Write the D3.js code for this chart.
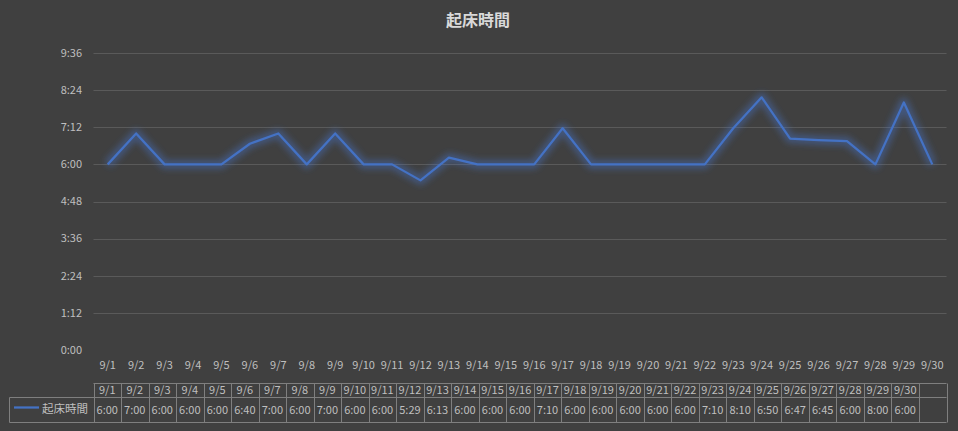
<!DOCTYPE html>
<html>
<head>
<meta charset="utf-8">
<script src="https://cdn.jsdelivr.net/npm/d3@7"></script>
<style>
  body { margin: 0; background: #404040; }
  text { font-family: "Noto Sans CJK JP", "Noto Sans", sans-serif; }
</style>
</head>
<body>
<svg id="chart" width="958" height="431"></svg>
<script>
// data
var dates = ["9/1","9/2","9/3","9/4","9/5","9/6","9/7","9/8","9/9","9/10",
  "9/11","9/12","9/13","9/14","9/15","9/16","9/17","9/18","9/19","9/20",
  "9/21","9/22","9/23","9/24","9/25","9/26","9/27","9/28","9/29","9/30"];
var wakeTimes = ["6:00","7:00","6:00","6:00","6:00","6:40","7:00","6:00","7:00","6:00",
  "6:00","5:29","6:13","6:00","6:00","6:00","7:10","6:00","6:00","6:00",
  "6:00","6:00","7:10","8:10","6:50","6:47","6:45","6:00","8:00","6:00"];
var yTicks = ["0:00","1:12","2:24","3:36","4:48","6:00","7:12","8:24","9:36"];
var seriesName = "起床時間";
var title = "起床時間";

function toMin(s) {
  var p = s.split(":");
  return +p[0] * 60 + +p[1];
}

var svg = d3.select("#chart"),
    width = +svg.attr("width");
var plotLeft = 93.5, plotRight = 946.5, plotTop = 53, plotBottom = 350;

var x = d3.scaleBand().domain(dates).range([plotLeft, plotRight]);
var y = d3.scaleLinear().domain([0, toMin("9:36")]).range([plotBottom, plotTop]);

var defs = svg.append("defs");
defs.append("filter").attr("id", "glow")
  .attr("x", "-10%").attr("y", "-50%").attr("width", "120%").attr("height", "200%")
  .append("feGaussianBlur").attr("stdDeviation", 3);

svg.append("text")
  .attr("x", width / 2 - 1).attr("y", 26)
  .attr("text-anchor", "middle")
  .attr("fill", "#d9d9d9")
  .style("font-size", "16px").style("font-weight", "bold")
  .text(title);

// gridlines
svg.append("g").selectAll("line")
  .data(yTicks.filter(function(t) { return toMin(t) > 0; }))
  .enter().append("line")
  .attr("x1", plotLeft).attr("x2", plotRight)
  .attr("y1", function(d) { return Math.round(y(toMin(d))) + 0.5; })
  .attr("y2", function(d) { return Math.round(y(toMin(d))) + 0.5; })
  .attr("stroke", "#5a5a5a").attr("stroke-width", 1);

// y axis labels
svg.append("g").selectAll("text")
  .data(yTicks)
  .enter().append("text")
  .attr("x", 82).attr("y", function(d) { return y(toMin(d)); })
  .attr("dy", "0.35em")
  .attr("text-anchor", "end")
  .attr("fill", "#bfbfbf")
  .style("font-size", "11px")
  .text(function(d) { return d; });

// x axis labels
svg.append("g").selectAll("text")
  .data(dates)
  .enter().append("text")
  .attr("x", function(d) { return x(d) + x.bandwidth() / 2; })
  .attr("y", 365).attr("dy", "0.35em")
  .attr("text-anchor", "middle")
  .attr("fill", "#bfbfbf")
  .style("font-size", "11px")
  .text(function(d) { return d; });

// line
var line = d3.line()
  .x(function(d, i) { return x(dates[i]) + x.bandwidth() / 2; })
  .y(function(d) { return y(toMin(d)); });

svg.append("path")
  .attr("d", line(wakeTimes))
  .attr("fill", "none")
  .attr("stroke", "#4472c4").attr("stroke-width", 9)
  .attr("stroke-opacity", 0.45)
  .attr("stroke-linejoin", "round")
  .attr("filter", "url(#glow)");
svg.append("path")
  .attr("d", line(wakeTimes))
  .attr("fill", "none")
  .attr("stroke", "#4472c4").attr("stroke-width", 2.25)
  .attr("stroke-linejoin", "round");

// data table
var cols = dates.concat([""]);
var tx = d3.scaleBand().domain(d3.range(cols.length)).range([plotLeft, plotRight]);
var rowTop = 383.5, rowMid = 397.5, rowBot = 422.5, legLeft = 9.5;
var border = "#7f7f7f";
var tbl = svg.append("g").attr("stroke", border).attr("stroke-width", 1);

tbl.append("line").attr("x1", plotLeft).attr("x2", plotRight).attr("y1", rowTop).attr("y2", rowTop);
tbl.append("line").attr("x1", legLeft).attr("x2", plotRight).attr("y1", rowMid).attr("y2", rowMid);
tbl.append("line").attr("x1", legLeft).attr("x2", plotRight).attr("y1", rowBot).attr("y2", rowBot);
tbl.append("line").attr("x1", legLeft).attr("x2", legLeft).attr("y1", rowMid).attr("y2", rowBot);
tbl.selectAll(".vline")
  .data(d3.range(cols.length + 1))
  .enter().append("line")
  .attr("class", "vline")
  .attr("x1", function(i) { return Math.round(plotLeft + i * tx.step()) + 0.5; })
  .attr("x2", function(i) { return Math.round(plotLeft + i * tx.step()) + 0.5; })
  .attr("y1", rowTop).attr("y2", rowBot);

svg.append("g").selectAll("text")
  .data(cols)
  .enter().append("text")
  .attr("x", function(d, i) { return tx(i) + tx.bandwidth() / 2; })
  .attr("y", (rowTop + rowMid) / 2).attr("dy", "0.35em")
  .attr("text-anchor", "middle")
  .attr("fill", "#bfbfbf")
  .style("font-size", "11px")
  .text(function(d) { return d; });

svg.append("g").selectAll("text")
  .data(wakeTimes)
  .enter().append("text")
  .attr("x", function(d, i) { return tx(i) + tx.bandwidth() / 2; })
  .attr("y", (rowMid + rowBot) / 2).attr("dy", "0.35em")
  .attr("text-anchor", "middle")
  .attr("fill", "#bfbfbf")
  .style("font-size", "11px")
  .text(function(d) { return d; });

// legend key
svg.append("line")
  .attr("x1", 14).attr("x2", 39)
  .attr("y1", 407.5).attr("y2", 407.5)
  .attr("stroke", "#4472c4").attr("stroke-width", 2.25);
svg.append("text")
  .attr("x", 42).attr("y", 409).attr("dy", "0.35em")
  .attr("fill", "#bfbfbf")
  .style("font-size", "11.5px")
  .text(seriesName);
</script>
</body>
</html>
